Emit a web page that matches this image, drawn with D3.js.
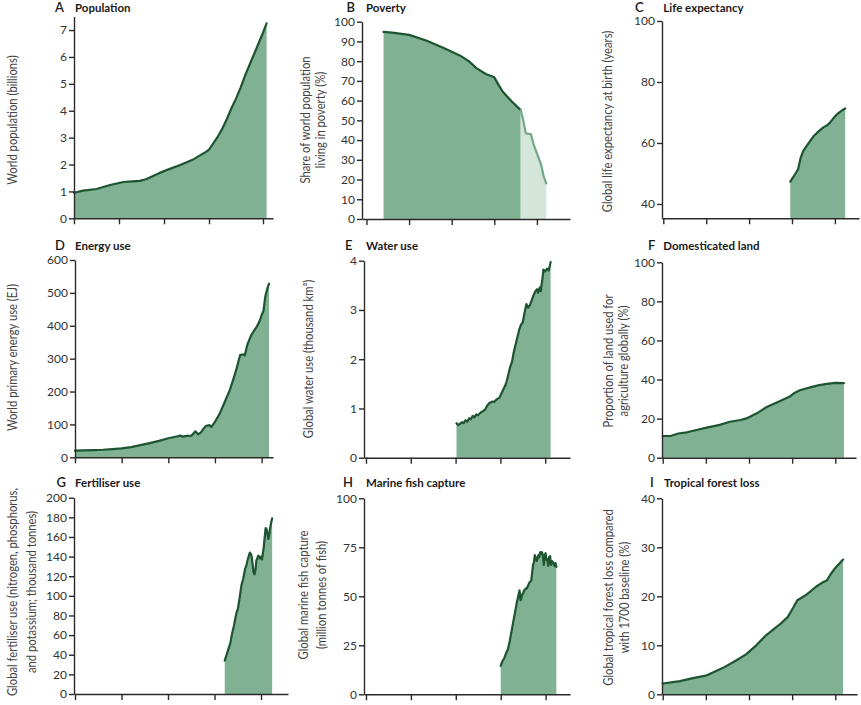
<!DOCTYPE html>
<html><head><meta charset="utf-8">
<script src="https://cdn.jsdelivr.net/npm/d3@7"></script>
<style>
body{margin:0;background:#fff}
svg{display:block}
text{font-family:Lato,"Noto Sans",sans-serif}
</style></head>
<body><svg id="chart" width="861" height="705"></svg>
<script>
// ---------------- data ----------------
const popYears = [1800,1810,1825,1840,1855,1865,1873,1880,1894,1905,1918,1933,1947,1950,1955,1960,1965,1970,1975,1980,1985,1990,1995,2000,2005,2010,2014];
const popValues = [0.95,1.03,1.09,1.24,1.35,1.37,1.39,1.45,1.67,1.82,1.98,2.2,2.48,2.55,2.8,3.05,3.35,3.7,4.1,4.45,4.85,5.3,5.7,6.1,6.5,6.9,7.25];

const povertyYears = [1820,1830,1850,1870,1890,1910,1920,1929,1940,1950,1955,1960,1970,1981];
const povertyValues = [94.8,94.5,93.3,90.5,86.8,82.8,80,76.5,73.5,71.8,68,64.5,59.8,55.2];
const povertyRecentYears = [1981,1984,1987,1990,1993,1996,1999,2002,2005,2008,2011];
const povertyRecentValues = [55.2,50,43.4,43.2,43,38,34.5,31,27.5,21.5,18];

const lifeYears = [1948,1953,1957,1960,1963,1967,1971,1975,1979,1983,1987,1991,1994,1998,2002,2006,2010,2012];
const lifeValues = [47.3,49.5,51.3,55,57.3,59,60.6,62.2,63.3,64.3,65.2,65.8,66.6,68,69.3,70.2,71,71.3];

const energyYears = [1800,1810,1820,1830,1840,1850,1860,1870,1880,1890,1900,1905,1910,1913,1915,1920,1925,1929,1932,1935,1937,1940,1944,1946,1950,1955,1960,1966,1970,1973,1975,1977,1980,1982,1985,1989,1992,1995,1998,2000,2002,2004,2006,2008];
const energyValues = [20,21,22,23,25,27,31,37,43,50,58,61,64,66,63,65,66,79,70,76,84,95,98,92,108,132,165,205,240,268,290,311,313,310,345,372,385,398,415,432,445,490,512,528];

const waterYears = [1901,1903,1905,1907,1909,1911,1913,1915,1917,1919,1921,1923,1925,1927,1929,1931,1933,1935,1937,1939,1941,1943,1945,1947,1949,1951,1953,1955,1957,1959,1961,1963,1965,1967,1969,1971,1973,1975,1977,1979,1981,1983,1985,1987,1989,1991,1992,1994,1995,1997,1998,2000,2002,2004,2006];
const waterValues = [0.70,0.66,0.69,0.72,0.70,0.76,0.73,0.80,0.78,0.85,0.82,0.88,0.86,0.90,0.93,0.95,0.98,1.05,1.10,1.12,1.14,1.13,1.17,1.20,1.22,1.30,1.38,1.45,1.55,1.70,1.85,1.95,2.15,2.30,2.45,2.60,2.70,2.75,2.95,3.12,3.05,3.10,3.20,3.30,3.38,3.42,3.35,3.46,3.38,3.65,3.82,3.78,3.84,3.80,3.97];

const landYears = [1800,1810,1818,1828,1839,1851,1866,1878,1890,1897,1909,1920,1936,1948,1952,1959,1965,1971,1980,1990,2000,2010];
const landValues = [11.1,11.2,12.4,13,14.2,15.4,16.8,18.4,19.3,20.1,22.7,25.8,29,31.5,33,34.5,35.3,36,37,37.8,38.3,38.2];

const fertYears = [1961,1963,1965,1967,1969,1971,1973,1974,1975,1977,1979,1981,1983,1984,1986,1988,1989,1990,1991,1992,1993,1994,1995,1996,1997,1998,1999,2000,2001,2002,2003,2004,2005,2006,2007,2008,2009,2010,2011,2012];
const fertValues = [34,40,46,52,62,70,80,84,86,98,111,118,128,130,138,144,143,140,132,124,122,126,136,138,141,140,138,140,137,143,150,160,169,168,163,158,164,170,175,179];

const fishYears = [1950,1952,1954,1956,1958,1960,1962,1964,1966,1968,1970,1971,1972,1973,1974,1975,1976,1977,1978,1979,1980,1982,1984,1985,1986,1987,1988,1989,1990,1991,1992,1993,1994,1995,1996,1997,1998,1999,2000,2001,2002,2003,2004,2005,2006,2007,2008,2009,2010,2011,2012];
const fishValues = [14.5,17,18.5,21,23,27,32,37,42,47,51,53,48,49,51,51.5,53,53.5,54,54,55,57,58,62,66,67.5,71,70,68,69,71,70,72.5,71.5,72.5,71,66,70.5,72,68.5,69,65.5,70,70.5,66,68,67.5,66.5,65.5,67,65];

const forestYears = [1800,1820,1835,1850,1860,1870,1886,1897,1909,1920,1936,1945,1951,1956,1959,1967,1978,1985,1990,1995,2000,2009];
const forestValues = [2.2,2.7,3.3,3.8,4.6,5.4,7,8.2,10.1,12.1,14.3,15.8,17.6,19.2,19.5,20.4,22,22.8,23.2,24.6,25.8,27.5];

const xTickYears = [1800,1850,1900,1950,2000];
const xTickYearsA = [1800,1850,1900,1950,2010];

// ---------------- layout ----------------
const FILL = "#7fb192", STROKE = "#1c5530";
const LFILL = "#d4e5da", LSTROKE = "#72a887";

const panels = [
 {letter:"A", lx:55, title:"Population", tx:75, ty:11.5, label:["World population (billions)"], labX:[12.5], labY:120,
  ax:74, x1800:74, ppy:0.9, right:273, yDomain:[0,7.5], yRange:[218.3,16.6], yTicks:d3.range(0,8,1), xTicks:xTickYearsA,
  series:[{years:popYears, values:popValues}]},
 {letter:"B", lx:346.5, title:"Poverty", tx:366, ty:11.5, label:["Share of world population","living in poverty (%)"], labX:[305,320.7], labY:120,
  ax:362, x1800:366.5, ppy:0.852, right:570, yDomain:[0,100], yRange:[219,21.7], yTicks:d3.range(0,101,10), xTicks:xTickYears,
  series:[{years:povertyYears, values:povertyValues},{years:povertyRecentYears, values:povertyRecentValues, light:true}]},
 {letter:"C", lx:635, title:"Life expectancy", tx:663.3, ty:11.5, label:["Global life expectancy at birth (years)"], labX:[607.3], labY:121.5,
  ax:662, x1800:663.3, ppy:0.858, right:859, yDomain:[35.3,100], yRange:[218.3,21], yTicks:[40,60,80,100], xTicks:xTickYears,
  series:[{years:lifeYears, values:lifeValues}]},
 {letter:"D", lx:55, title:"Energy use", tx:75, ty:249.5, label:["World primary energy use (EJ)"], labX:[12.7], labY:357.5,
  ax:75, x1800:75, ppy:0.933, right:273, yDomain:[0,600], yRange:[457.3,260], yTicks:d3.range(0,601,100), xTicks:xTickYears,
  series:[{years:energyYears, values:energyValues}]},
 {letter:"E", lx:345, title:"Water use", tx:366, ty:249.5, label:["Global water use (thousand km³)"], labX:[308], labY:359,
  ax:364, x1800:366, ppy:0.896, right:570, yDomain:[0,4], yRange:[457.7,260.7], yTicks:[0,1,2,3,4], xTicks:xTickYears,
  series:[{years:waterYears, values:waterValues}]},
 {letter:"F", lx:648, title:"Domesticated land", tx:663.3, ty:249.5, label:["Proportion of land used for","agriculture globally (%)"], labX:[608.3,623.3], labY:361,
  ax:662, x1800:662.7, ppy:0.863, right:856, yDomain:[0,100], yRange:[457.7,262.3], yTicks:d3.range(0,101,20), xTicks:xTickYears,
  series:[{years:landYears, values:landValues}]},
 {letter:"G", lx:56.5, title:"Fertiliser use", tx:75, ty:486.7, label:["Global fertiliser use (nitrogen, phosphorus,","and potassium; thousand tonnes)"], labX:[12,31], labY:592,
  ax:74, x1800:75, ppy:0.93, right:288, yDomain:[0,200], yRange:[694,497.7], yTicks:d3.range(0,201,20), xTicks:xTickYears,
  series:[{years:fertYears, values:fertValues}]},
 {letter:"H", lx:343, title:"Marine fish capture", tx:366, ty:486.7, label:["Global marine fish capture","(million tonnes of fish)"], labX:[303.3,321.7], labY:595,
  ax:364, x1800:366, ppy:0.898, right:570, yDomain:[0,100], yRange:[694.3,498.3], yTicks:[0,25,50,75,100], xTicks:xTickYears,
  series:[{years:fishYears, values:fishValues}]},
 {letter:"I", lx:650, title:"Tropical forest loss", tx:664, ty:486.7, label:["Global tropical forest loss compared","with 1700 baseline (%)"], labX:[608.3,624.3], labY:597.5,
  ax:662, x1800:662.7, ppy:0.863, right:857, yDomain:[0,40], yRange:[694.3,498.3], yTicks:[0,10,20,30,40], xTicks:xTickYears,
  series:[{years:forestYears, values:forestValues}]}
];

const svg = d3.select("#chart");

panels.forEach(p => {
  const g = svg.append("g");
  const d0 = 1800 - (p.x1800 - p.ax) / p.ppy;
  const d1 = 1800 + (p.right - p.x1800) / p.ppy;
  const x = d3.scaleLinear().domain([d0, d1]).range([p.ax, p.right]);
  const y = d3.scaleLinear().domain(p.yDomain).range(p.yRange);
  const base = p.yRange[0];

  p.series.forEach(s => {
    const data = s.years.map((yr, i) => [yr, s.values[i]]);
    const area = d3.area().x(d => x(d[0])).y0(base).y1(d => y(d[1]));
    g.append("path").attr("d", area(data)).attr("fill", s.light ? LFILL : FILL);
  });
  p.series.forEach(s => {
    const data = s.years.map((yr, i) => [yr, s.values[i]]);
    const line = d3.line().x(d => x(d[0])).y(d => y(d[1]));
    g.append("path").attr("d", line(data)).attr("fill", "none")
      .attr("stroke", s.light ? LSTROKE : STROKE).attr("stroke-width", 2.2)
      .attr("stroke-linejoin", "round").attr("stroke-linecap", "round");
  });

  const ya = g.append("g").attr("transform", `translate(${p.ax},0)`)
    .call(d3.axisLeft(y).tickValues(p.yTicks).tickFormat(d3.format("d")).tickSize(5).tickPadding(2).tickSizeOuter(0));
  const xa = g.append("g").attr("transform", `translate(0,${base})`)
    .call(d3.axisBottom(x).tickValues(p.xTicks).tickSize(6).tickFormat("").tickSizeOuter(0));
  [ya, xa].forEach(a => {
    a.selectAll(".domain, .tick line").attr("stroke", "#2a2a2a").attr("stroke-width", 1.4);
    a.selectAll("text").attr("fill", "#333").attr("font-size", 12).attr("font-family", "Lato, 'Noto Sans', sans-serif");
  });

  g.append("text").attr("x", p.lx).attr("y", p.ty).text(p.letter)
    .attr("font-size", 13).attr("font-weight", 600).attr("fill", "#1a1a1a");
  g.append("text").attr("x", p.tx).attr("y", p.ty).text(p.title)
    .attr("font-size", 11.5).attr("font-weight", 700).attr("fill", "#1a1a1a");

  p.label.forEach((t, i) => {
    g.append("text")
      .attr("transform", `translate(${p.labX[i]},${p.labY}) rotate(-90) scale(0.9,1)`)
      .attr("text-anchor", "middle").attr("dominant-baseline", "central")
      .attr("font-size", 12.5).attr("fill", "#444").text(t);
  });
});
</script></body></html>
